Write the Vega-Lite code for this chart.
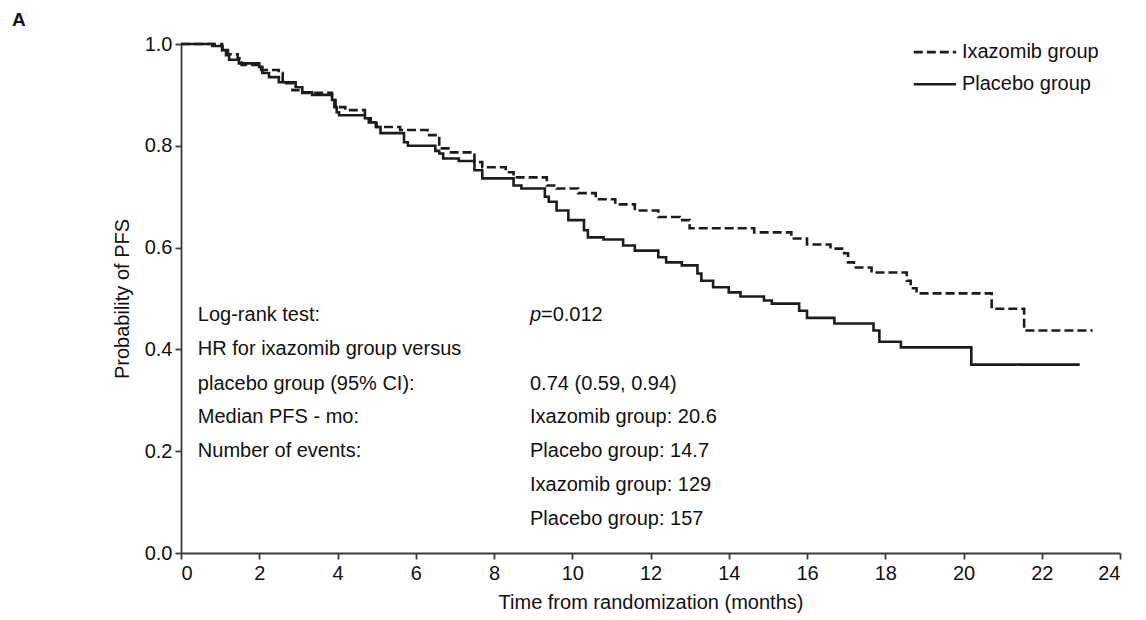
{
  "$schema": "https://vega.github.io/schema/vega-lite/v6.json",
  "width": 939,
  "height": 509,
  "autosize": {"type": "none"},
  "padding": {"left": 181, "top": 44, "right": 26, "bottom": 67},
  "background": "white",
  "data": {"values": [{}]},
  "config": {
    "font": "Liberation Sans",
    "view": {"stroke": null},
    "text": {"font": "Liberation Sans", "fontSize": 20, "color": "#111111"},
    "axis": {"domainColor": "#3a3a3a", "tickColor": "#3a3a3a", "labelColor": "#111111", "titleColor": "#111111", "labelFont": "Liberation Sans", "titleFont": "Liberation Sans", "labelFontSize": 20, "titleFontSize": 20, "titleFontWeight": "normal", "grid": false, "tickSize": 6, "domainWidth": 1.8, "tickWidth": 1.8}
  },
  "datasets": {
    "curves": [
      {"group": "Placebo group", "t": 0, "S": 1.0},
      {"group": "Placebo group", "t": 0.8, "S": 0.996},
      {"group": "Placebo group", "t": 1.06, "S": 0.988},
      {"group": "Placebo group", "t": 1.15, "S": 0.978},
      {"group": "Placebo group", "t": 1.23, "S": 0.969},
      {"group": "Placebo group", "t": 1.48, "S": 0.962},
      {"group": "Placebo group", "t": 2.0, "S": 0.955},
      {"group": "Placebo group", "t": 2.08, "S": 0.943},
      {"group": "Placebo group", "t": 2.25, "S": 0.935},
      {"group": "Placebo group", "t": 2.5, "S": 0.925},
      {"group": "Placebo group", "t": 2.93, "S": 0.915},
      {"group": "Placebo group", "t": 3.1, "S": 0.905},
      {"group": "Placebo group", "t": 3.35, "S": 0.9},
      {"group": "Placebo group", "t": 3.86, "S": 0.89},
      {"group": "Placebo group", "t": 3.92, "S": 0.876},
      {"group": "Placebo group", "t": 3.98, "S": 0.866},
      {"group": "Placebo group", "t": 4.04, "S": 0.86},
      {"group": "Placebo group", "t": 4.7, "S": 0.854},
      {"group": "Placebo group", "t": 4.8, "S": 0.846},
      {"group": "Placebo group", "t": 4.98, "S": 0.837},
      {"group": "Placebo group", "t": 5.1, "S": 0.825},
      {"group": "Placebo group", "t": 5.7, "S": 0.807},
      {"group": "Placebo group", "t": 5.8, "S": 0.8},
      {"group": "Placebo group", "t": 6.5, "S": 0.79},
      {"group": "Placebo group", "t": 6.6, "S": 0.785},
      {"group": "Placebo group", "t": 6.7, "S": 0.775},
      {"group": "Placebo group", "t": 7.1, "S": 0.77},
      {"group": "Placebo group", "t": 7.5, "S": 0.752},
      {"group": "Placebo group", "t": 7.7, "S": 0.736},
      {"group": "Placebo group", "t": 8.5, "S": 0.722},
      {"group": "Placebo group", "t": 8.7, "S": 0.716},
      {"group": "Placebo group", "t": 9.3, "S": 0.7},
      {"group": "Placebo group", "t": 9.4, "S": 0.69},
      {"group": "Placebo group", "t": 9.6, "S": 0.673},
      {"group": "Placebo group", "t": 9.9, "S": 0.654},
      {"group": "Placebo group", "t": 10.3, "S": 0.634},
      {"group": "Placebo group", "t": 10.4, "S": 0.62},
      {"group": "Placebo group", "t": 10.8, "S": 0.616},
      {"group": "Placebo group", "t": 11.3, "S": 0.604},
      {"group": "Placebo group", "t": 11.6, "S": 0.594},
      {"group": "Placebo group", "t": 12.2, "S": 0.581},
      {"group": "Placebo group", "t": 12.4, "S": 0.571},
      {"group": "Placebo group", "t": 12.8, "S": 0.565},
      {"group": "Placebo group", "t": 13.2, "S": 0.549},
      {"group": "Placebo group", "t": 13.3, "S": 0.535},
      {"group": "Placebo group", "t": 13.6, "S": 0.522},
      {"group": "Placebo group", "t": 14.0, "S": 0.512},
      {"group": "Placebo group", "t": 14.3, "S": 0.504},
      {"group": "Placebo group", "t": 14.9, "S": 0.496},
      {"group": "Placebo group", "t": 15.1, "S": 0.49},
      {"group": "Placebo group", "t": 15.8, "S": 0.476},
      {"group": "Placebo group", "t": 16.0, "S": 0.462},
      {"group": "Placebo group", "t": 16.7, "S": 0.451},
      {"group": "Placebo group", "t": 17.7, "S": 0.437},
      {"group": "Placebo group", "t": 17.85, "S": 0.415},
      {"group": "Placebo group", "t": 18.4, "S": 0.404},
      {"group": "Placebo group", "t": 20.2, "S": 0.37},
      {"group": "Placebo group", "t": 22.97, "S": 0.37},
      {"group": "Ixazomib group", "t": 0, "S": 1.0},
      {"group": "Ixazomib group", "t": 1.05, "S": 0.988},
      {"group": "Ixazomib group", "t": 1.2, "S": 0.98},
      {"group": "Ixazomib group", "t": 1.45, "S": 0.972},
      {"group": "Ixazomib group", "t": 1.55, "S": 0.959},
      {"group": "Ixazomib group", "t": 2.05, "S": 0.949},
      {"group": "Ixazomib group", "t": 2.5, "S": 0.943},
      {"group": "Ixazomib group", "t": 2.6, "S": 0.923},
      {"group": "Ixazomib group", "t": 2.85, "S": 0.909},
      {"group": "Ixazomib group", "t": 3.1, "S": 0.904},
      {"group": "Ixazomib group", "t": 3.86, "S": 0.89},
      {"group": "Ixazomib group", "t": 3.95, "S": 0.876},
      {"group": "Ixazomib group", "t": 4.2, "S": 0.87},
      {"group": "Ixazomib group", "t": 4.7, "S": 0.854},
      {"group": "Ixazomib group", "t": 4.85, "S": 0.844},
      {"group": "Ixazomib group", "t": 5.0, "S": 0.837},
      {"group": "Ixazomib group", "t": 5.6, "S": 0.831},
      {"group": "Ixazomib group", "t": 6.3, "S": 0.821},
      {"group": "Ixazomib group", "t": 6.6, "S": 0.795},
      {"group": "Ixazomib group", "t": 6.9, "S": 0.787},
      {"group": "Ixazomib group", "t": 7.5, "S": 0.768},
      {"group": "Ixazomib group", "t": 7.7, "S": 0.758},
      {"group": "Ixazomib group", "t": 8.3, "S": 0.748},
      {"group": "Ixazomib group", "t": 8.5, "S": 0.738},
      {"group": "Ixazomib group", "t": 9.35, "S": 0.722},
      {"group": "Ixazomib group", "t": 9.6, "S": 0.716},
      {"group": "Ixazomib group", "t": 10.15, "S": 0.707},
      {"group": "Ixazomib group", "t": 10.6, "S": 0.695},
      {"group": "Ixazomib group", "t": 11.1, "S": 0.685},
      {"group": "Ixazomib group", "t": 11.6, "S": 0.673},
      {"group": "Ixazomib group", "t": 12.2, "S": 0.66},
      {"group": "Ixazomib group", "t": 12.75, "S": 0.654},
      {"group": "Ixazomib group", "t": 13.0, "S": 0.638},
      {"group": "Ixazomib group", "t": 14.65, "S": 0.63},
      {"group": "Ixazomib group", "t": 15.6, "S": 0.618},
      {"group": "Ixazomib group", "t": 16.0, "S": 0.606},
      {"group": "Ixazomib group", "t": 16.6, "S": 0.598},
      {"group": "Ixazomib group", "t": 16.95, "S": 0.589},
      {"group": "Ixazomib group", "t": 17.05, "S": 0.571},
      {"group": "Ixazomib group", "t": 17.2, "S": 0.561},
      {"group": "Ixazomib group", "t": 17.65, "S": 0.551},
      {"group": "Ixazomib group", "t": 18.55, "S": 0.535},
      {"group": "Ixazomib group", "t": 18.65, "S": 0.52},
      {"group": "Ixazomib group", "t": 18.8, "S": 0.51},
      {"group": "Ixazomib group", "t": 20.72, "S": 0.48},
      {"group": "Ixazomib group", "t": 21.55, "S": 0.437},
      {"group": "Ixazomib group", "t": 23.3, "S": 0.437}
    ]
  },
  "layer": [
    {
      "data": {"name": "curves"},
      "mark": {"type": "line", "interpolate": "step-after", "color": "#1c1c1c", "strokeWidth": 2.6},
      "encoding": {
        "x": {"field": "t", "type": "quantitative", "scale": {"domain": [0, 24], "nice": false}, "axis": {"values": [0, 2, 4, 6, 8, 10, 12, 14, 16, 18, 20, 22, 24], "title": "Time from randomization (months)", "labelPadding": 4, "titlePadding": 9}},
        "y": {"field": "S", "type": "quantitative", "scale": {"domain": [0, 1], "nice": false}, "axis": {"values": [0, 0.2, 0.4, 0.6, 0.8, 1.0], "format": ".1f", "title": "Probability of PFS", "labelPadding": 3, "titlePadding": 12}},
        "strokeDash": {"field": "group", "type": "nominal", "scale": {"domain": ["Ixazomib group", "Placebo group"], "range": [[9, 4], [1, 0]]}, "legend": null}
      }
    },
    {
      "mark": {"type": "rule", "strokeDash": [9, 4], "strokeWidth": 2.6, "color": "#1c1c1c"},
      "encoding": {"x": {"datum": 18.73, "type": "quantitative"}, "x2": {"datum": 19.81}, "y": {"datum": 0.984, "type": "quantitative"}}
    },
    {
      "mark": {"type": "rule", "strokeWidth": 2.6, "color": "#1c1c1c"},
      "encoding": {"x": {"datum": 18.73, "type": "quantitative"}, "x2": {"datum": 19.81}, "y": {"datum": 0.921, "type": "quantitative"}}
    },
    {
      "mark": {"type": "text", "text": "Ixazomib group", "align": "left", "baseline": "middle"},
      "encoding": {"x": {"datum": 19.96, "type": "quantitative"}, "y": {"datum": 0.984, "type": "quantitative"}}
    },
    {
      "mark": {"type": "text", "text": "Placebo group", "align": "left", "baseline": "middle"},
      "encoding": {"x": {"datum": 19.96, "type": "quantitative"}, "y": {"datum": 0.921, "type": "quantitative"}}
    },
    {
      "mark": {"type": "text", "text": "A", "fontSize": 19, "fontWeight": "bold", "align": "left", "baseline": "middle"},
      "encoding": {"x": {"datum": -4.32, "type": "quantitative"}, "y": {"datum": 1.047, "type": "quantitative"}}
    },
    {
      "mark": {"type": "text", "text": "Log-rank test:", "align": "left", "baseline": "middle"},
      "encoding": {"x": {"datum": 0.43, "type": "quantitative"}, "y": {"datum": 0.467, "type": "quantitative"}}
    },
    {
      "mark": {"type": "text", "text": "HR for ixazomib group versus", "align": "left", "baseline": "middle"},
      "encoding": {"x": {"datum": 0.43, "type": "quantitative"}, "y": {"datum": 0.4, "type": "quantitative"}}
    },
    {
      "mark": {"type": "text", "text": "placebo group (95% CI):", "align": "left", "baseline": "middle"},
      "encoding": {"x": {"datum": 0.43, "type": "quantitative"}, "y": {"datum": 0.333, "type": "quantitative"}}
    },
    {
      "mark": {"type": "text", "text": "Median PFS - mo:", "align": "left", "baseline": "middle"},
      "encoding": {"x": {"datum": 0.43, "type": "quantitative"}, "y": {"datum": 0.267, "type": "quantitative"}}
    },
    {
      "mark": {"type": "text", "text": "Number of events:", "align": "left", "baseline": "middle"},
      "encoding": {"x": {"datum": 0.43, "type": "quantitative"}, "y": {"datum": 0.2, "type": "quantitative"}}
    },
    {
      "mark": {"type": "text", "text": "p", "fontStyle": "italic", "align": "left", "baseline": "middle"},
      "encoding": {"x": {"datum": 8.92, "type": "quantitative"}, "y": {"datum": 0.467, "type": "quantitative"}}
    },
    {
      "mark": {"type": "text", "text": "=0.012", "align": "left", "baseline": "middle", "dx": 11},
      "encoding": {"x": {"datum": 8.92, "type": "quantitative"}, "y": {"datum": 0.467, "type": "quantitative"}}
    },
    {
      "mark": {"type": "text", "text": "0.74 (0.59, 0.94)", "align": "left", "baseline": "middle"},
      "encoding": {"x": {"datum": 8.92, "type": "quantitative"}, "y": {"datum": 0.333, "type": "quantitative"}}
    },
    {
      "mark": {"type": "text", "text": "Ixazomib group: 20.6", "align": "left", "baseline": "middle"},
      "encoding": {"x": {"datum": 8.92, "type": "quantitative"}, "y": {"datum": 0.267, "type": "quantitative"}}
    },
    {
      "mark": {"type": "text", "text": "Placebo group: 14.7", "align": "left", "baseline": "middle"},
      "encoding": {"x": {"datum": 8.92, "type": "quantitative"}, "y": {"datum": 0.2, "type": "quantitative"}}
    },
    {
      "mark": {"type": "text", "text": "Ixazomib group: 129", "align": "left", "baseline": "middle"},
      "encoding": {"x": {"datum": 8.92, "type": "quantitative"}, "y": {"datum": 0.133, "type": "quantitative"}}
    },
    {
      "mark": {"type": "text", "text": "Placebo group: 157", "align": "left", "baseline": "middle"},
      "encoding": {"x": {"datum": 8.92, "type": "quantitative"}, "y": {"datum": 0.067, "type": "quantitative"}}
    }
  ]
}
